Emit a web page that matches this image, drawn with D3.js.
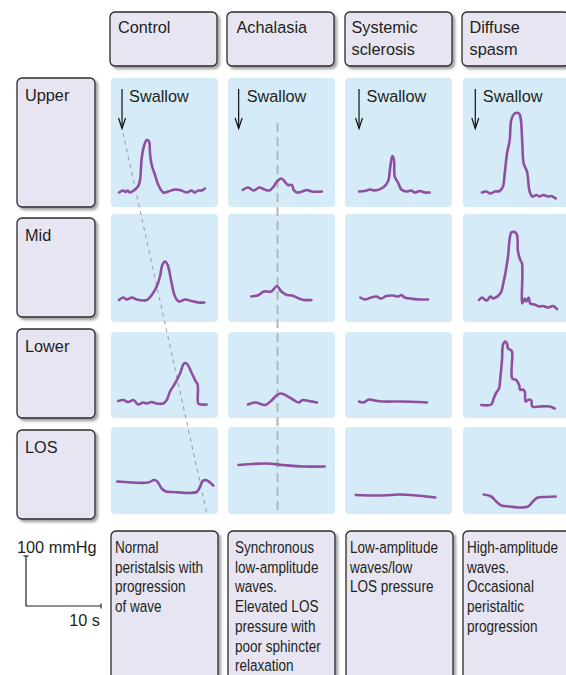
<!DOCTYPE html>
<html><head><meta charset="utf-8">
<script src="https://cdn.jsdelivr.net/npm/d3@7"></script>
<style>html,body{margin:0;padding:0;background:#fff;} svg{display:block;font-family:"Liberation Sans",Arial,sans-serif;}</style>
</head><body><div id="chart"></div>
<script>
// ---------- DATA ----------
const conditions = ["Control", "Achalasia", "Systemic sclerosis", "Diffuse spasm"];
const headerLines = [["Control"], ["Achalasia"], ["Systemic", "sclerosis"], ["Diffuse", "spasm"]];
const regions = ["Upper", "Mid", "Lower", "LOS"];
const descriptions = [
  ["Normal", "peristalsis with", "progression", "of wave"],
  ["Synchronous", "low-amplitude", "waves.", "Elevated LOS", "pressure with", "poor sphincter", "relaxation"],
  ["Low-amplitude", "waves/low", "LOS pressure"],
  ["High-amplitude", "waves.", "Occasional", "peristaltic", "progression"]
];
const swallowLabel = "Swallow";
const swallowTime = [1.47, 1.42, 1.87, 1.64];      // s after start of each panel
const scaleBarValues = [100, 10];                   // mmHg, s
const scaleBarLabels = ["100 mmHg", "10 s"];

// traces: [time (s), pressure (mmHg)]
const controlUpper = [[1.07,29],[1.64,33],[1.96,30],[2.23,33],[2.53,29],[3.2,35],[3.64,42],[3.87,54],[4.09,97],[4.4,122],[4.76,134],[5.07,131],[5.2,107],[5.43,84],[5.87,64],[6.31,44],[6.97,29],[7.64,31],[8.53,35],[9.2,34],[10.09,29],[10.76,33],[11.11,29],[11.64,33],[12.09,33],[12.53,37]];
const controlMid = [[1.07,44],[1.64,49],[2.09,45],[2.76,49],[3.43,45],[4.76,44],[5.43,54],[6.09,71],[6.53,91],[6.84,114],[7.2,121],[7.56,114],[8.0,84],[8.53,51],[9.07,41],[9.87,45],[10.76,42],[11.64,39],[12.44,39]];
const controlLower = [[0.97,34],[1.64,36],[2.31,32],[2.97,36],[3.64,27],[4.31,31],[4.76,29],[5.43,32],[6.09,29],[6.97,29],[7.43,36],[7.87,53],[8.53,69],[9.2,89],[9.73,109],[10.09,109],[10.67,93],[11.2,76],[11.56,66],[11.64,29],[12.0,27],[12.76,27]];
const controlLOS = [[0.84,65],[4.97,63],[5.73,68],[6.17,65],[6.76,51],[7.33,45],[8.31,44],[11.43,44],[11.87,55],[12.23,66],[12.67,68],[13.2,63],[13.64,57]];
const achalasiaUpper = [[1.96,34],[2.67,39],[3.43,33],[4.17,39],[4.89,35],[5.51,33],[6.09,41],[6.53,51],[7.11,57],[7.56,51],[8.0,44],[8.53,44],[8.76,34],[9.2,29],[9.87,31],[10.53,34],[11.2,31],[12.53,31]];
const achalasiaMid = [[3.11,51],[4.09,54],[4.76,61],[5.77,61],[6.53,72],[7.11,61],[7.87,54],[8.53,53],[9.43,47],[10.09,44],[11.11,44]];
const achalasiaLower = [[2.67,27],[3.64,31],[4.97,26],[5.87,36],[6.53,46],[7.11,49],[7.87,44],[8.76,36],[9.43,31],[9.96,36],[10.76,34],[11.87,31]];
const achalasiaLOS = [[1.4,98],[5.16,101],[7.33,98],[10.0,95],[12.89,95]];
const systemicUpper = [[1.87,31],[2.63,32],[3.37,35],[3.96,33],[5.07,39],[5.73,51],[6.04,81],[6.31,102],[6.53,94],[6.63,61],[7.07,49],[7.51,35],[8.17,31],[8.84,33],[9.29,29],[9.96,32],[10.63,29],[11.29,29]];
const systemicMid = [[2.04,49],[2.63,45],[3.51,49],[4.17,51],[4.84,47],[5.51,52],[6.4,53],[7.07,51],[7.51,54],[7.96,49],[8.63,47],[9.96,45],[11.07,45]];
const systemicLower = [[1.87,33],[2.4,31],[3.2,37],[3.96,35],[5.07,33],[7.29,33],[10.93,31]];
const systemicLOS = [[1.43,38],[5.07,37],[7.29,39],[9.51,37],[12.04,33]];
const diffuseUpper = [[2.53,29],[3.11,31],[3.64,27],[4.23,31],[4.89,32],[5.33,41],[5.56,67],[5.87,107],[6.23,134],[6.44,174],[6.89,187],[7.47,187],[7.69,177],[7.91,127],[8.09,87],[8.53,71],[8.89,31],[9.24,21],[9.77,24],[10.23,21],[10.67,24],[11.33,21],[11.77,22],[12.36,17]];
const diffuseMid = [[2.13,44],[2.53,49],[2.89,45],[3.2,43],[3.64,51],[4.0,47],[4.36,49],[4.8,54],[5.11,61],[5.33,74],[5.69,101],[6.0,131],[6.23,167],[6.44,179],[6.89,180],[7.2,174],[7.33,141],[7.64,124],[7.87,117],[7.91,37],[8.23,47],[8.44,41],[8.76,49],[8.97,37],[9.56,35],[10.13,31],[10.67,32],[11.33,29],[12.0,32],[12.53,26]];
const diffuseLower = [[2.44,26],[3.77,27],[4.09,39],[4.44,51],[4.8,59],[4.97,79],[5.2,116],[5.33,146],[5.64,153],[5.87,149],[6.0,139],[6.44,135],[6.57,131],[6.57,79],[7.11,76],[7.47,66],[7.64,56],[8.0,57],[8.23,53],[8.36,33],[8.8,37],[9.11,35],[9.24,23],[10.23,23],[11.56,23],[12.23,19]];
const diffuseLOS = [[2.76,39],[3.77,35],[4.44,25],[5.11,17],[6.23,15],[7.56,13],[8.67,15],[9.33,25],[9.96,33],[11.07,34],[12.36,35]];

const traces = [
  [controlUpper, controlMid, controlLower, controlLOS],
  [achalasiaUpper, achalasiaMid, achalasiaLower, achalasiaLOS],
  [systemicUpper, systemicMid, systemicLower, systemicLOS],
  [diffuseUpper, diffuseMid, diffuseLower, diffuseLOS]
];

// ---------- LAYOUT ----------
const W = 566, H = 675;
const pxPerSec = 7.5, pxPerMmHg = 0.5;
const colX = [111, 228, 345, 463], panelW = 107;
const rowY = [78, 214, 332, 427], rowH = [129, 108, 86, 87];
const headX = [110, 227, 345, 462], headTextDx = [8, 9.5, 6.5, 7.5];
const labelY = [78, 218, 329, 430], labelH = [129, 99, 89, 89];
const descTextDx = [4, 7, 4, 4];
const swallowTextDx = [7, 8, 7.5, 7.5];
const traceColor = "#8e4fa0";
const textColor = "#231f20";

const svg = d3.select("#chart").append("svg").attr("width", W).attr("height", H);
svg.append("rect").attr("width", W).attr("height", H).attr("fill", "#fff");
const defs = svg.append("defs");
const f = defs.append("filter").attr("id", "sh").attr("x", "-10%").attr("y", "-10%").attr("width", "130%").attr("height", "130%");
f.append("feDropShadow").attr("dx", 2.5).attr("dy", 2.5).attr("stdDeviation", 1.3)
  .attr("flood-color", "#555").attr("flood-opacity", 0.55);

function box(x, y, w, h) {
  svg.append("rect").attr("x", x).attr("y", y).attr("width", w).attr("height", h)
    .attr("rx", 5).attr("fill", "#e7e5f2").attr("stroke", "#2b2b2b").attr("stroke-width", 1.3)
    .attr("filter", "url(#sh)");
}

// header boxes
conditions.forEach((c, i) => {
  box(headX[i], 12, 107, 54);
  headerLines[i].forEach((ln, k) => {
    svg.append("text").attr("x", headX[i] + headTextDx[i]).attr("y", 33 + k * 21.5)
      .attr("font-size", 16.3).attr("fill", textColor).text(ln);
  });
});

// row label boxes
regions.forEach((r, j) => {
  box(17, labelY[j], 78, labelH[j]);
  svg.append("text").attr("x", 25).attr("y", labelY[j] + 23)
    .attr("font-size", 16.3).attr("fill", textColor).text(r);
});

// description boxes
descriptions.forEach((lines, i) => {
  box(headX[i] + 1, 531, 107, 170);
  lines.forEach((ln, k) => {
    svg.append("text")
      .attr("transform", `translate(${headX[i] + 1 + descTextDx[i]},${553 + k * 19.7}) scale(0.83,1)`)
      .attr("font-size", 16.3).attr("fill", textColor).text(ln);
  });
});

// panel backgrounds
colX.forEach(cx => rowY.forEach((ry, j) => {
  svg.append("rect").attr("x", cx).attr("y", ry).attr("width", panelW).attr("height", rowH[j])
    .attr("rx", 4).attr("fill", "#d5ecf8");
}));

// scales per panel
function xScale(i) { return d3.scaleLinear().domain([0, panelW / pxPerSec]).range([colX[i], colX[i] + panelW]); }
function yScale(j) { return d3.scaleLinear().domain([0, rowH[j] / pxPerMmHg]).range([rowY[j] + rowH[j], rowY[j]]); }

// progression lines (wave front)
const xc = xScale(0);
svg.append("line").attr("x1", xc(1.6)).attr("y1", 133).attr("x2", xc(12.8)).attr("y2", 514)
  .attr("stroke", "#9a9a9a").attr("stroke-width", 1).attr("stroke-dasharray", "4,4");
const xa = xScale(1);
svg.append("line").attr("x1", xa(6.6)).attr("y1", 123).attr("x2", xa(6.6)).attr("y2", 514)
  .attr("stroke", "#b5b5b5").attr("stroke-width", 2).attr("stroke-dasharray", "9,5");

// swallow arrows
swallowTime.forEach((t, i) => {
  const x = xScale(i)(t);
  svg.append("line").attr("x1", x).attr("y1", 89).attr("x2", x).attr("y2", 128)
    .attr("stroke", "#111").attr("stroke-width", 1.2);
  svg.append("path").attr("d", `M${x - 3.5},${118} L${x},${128.5} L${x + 3.5},${118}`)
    .attr("fill", "none").attr("stroke", "#111").attr("stroke-width", 1.2);
  svg.append("text").attr("x", x + swallowTextDx[i]).attr("y", 102)
    .attr("font-size", 16.3).attr("fill", textColor).text(swallowLabel);
});

// traces
traces.forEach((col, i) => col.forEach((data, j) => {
  const x = xScale(i), y = yScale(j);
  const line = d3.line().x(d => x(d[0])).y(d => y(d[1])).curve(d3.curveCatmullRom.alpha(0.5));
  svg.append("path").attr("d", line(data)).attr("fill", "none")
    .attr("stroke", traceColor).attr("stroke-width", 2.6)
    .attr("stroke-linecap", "round").attr("stroke-linejoin", "round");
}));

// scale bar
const sbY = d3.scaleLinear().domain([0, scaleBarValues[0]]).range([606, 606 - scaleBarValues[0] * pxPerMmHg]);
const sbX = d3.scaleLinear().domain([0, scaleBarValues[1]]).range([26, 26 + scaleBarValues[1] * pxPerSec]);
svg.append("path")
  .attr("d", `M${sbX(0)},${sbY(scaleBarValues[0])} L${sbX(0)},${sbY(0)} L${sbX(scaleBarValues[1])},${sbY(0)}`)
  .attr("fill", "none").attr("stroke", "#222").attr("stroke-width", 1.2);
svg.append("line").attr("x1", sbX(0) - 2.5).attr("x2", sbX(0) + 2.5).attr("y1", sbY(scaleBarValues[0])).attr("y2", sbY(scaleBarValues[0]))
  .attr("stroke", "#222").attr("stroke-width", 1.2);
svg.append("line").attr("x1", sbX(scaleBarValues[1])).attr("x2", sbX(scaleBarValues[1])).attr("y1", sbY(0) - 2.5).attr("y2", sbY(0) + 2.5)
  .attr("stroke", "#222").attr("stroke-width", 1.2);
svg.append("text").attr("x", 17).attr("y", 553).attr("font-size", 16.3).attr("fill", textColor).text(scaleBarLabels[0]);
svg.append("text").attr("x", 100).attr("y", 626).attr("text-anchor", "end").attr("font-size", 16.3).attr("fill", textColor).text(scaleBarLabels[1]);
</script></body></html>
